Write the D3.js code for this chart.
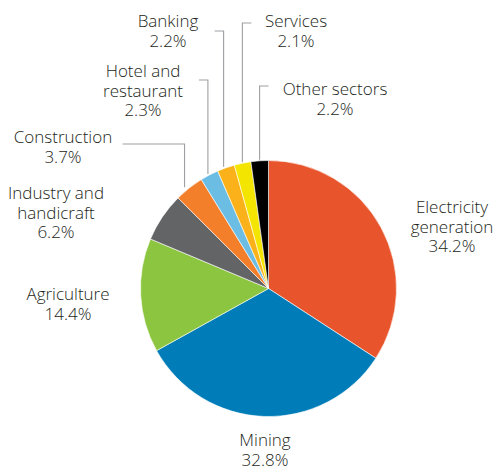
<!DOCTYPE html>
<html>
<head>
<meta charset="utf-8">
<script src="https://cdn.jsdelivr.net/npm/d3@7"></script>
<style>
  html, body { margin: 0; padding: 0; background: #fff; }
  svg text { font-family: "Open Sans", Lato, sans-serif; font-weight: 300; fill: #231f20; }
</style>
</head>
<body>
<svg id="chart" width="496" height="470"></svg>
<script>
// Share of each sector, in percent
const sectors = ["Electricity generation", "Mining", "Agriculture", "Industry and handicraft",
  "Construction", "Hotel and restaurant", "Banking", "Services", "Other sectors"];
const shares = [34.2, 32.8, 14.4, 6.2, 3.7, 2.3, 2.2, 2.1, 2.2];
const labelLines = [
  ["Electricity", "generation"], ["Mining"], ["Agriculture"], ["Industry and", "handicraft"],
  ["Construction"], ["Hotel and", "restaurant"], ["Banking"], ["Services"], ["Other sectors"]
];
const colors = ["#e8542b", "#007db8", "#8cc540", "#636466", "#f47f2b",
  "#6bbde4", "#fbb21a", "#f4e500", "#000000"];

// Label placement: text centre x, first baseline y; leader elbow y, horizontal run, x shift
const labelLayout = [
  { x: 452, y: 213 },
  { x: 265, y: 446 },
  { x: 68, y: 300 },
  { x: 56, y: 199 },
  { x: 63, y: 143, elbowY: 144, run: -62, dx: -4 },
  { x: 143, y: 77, elbowY: 80, run: -9, dx: -1 },
  { x: 168, y: 27, elbowY: 31, run: -9, dx: -2 },
  { x: 296, y: 27, elbowY: 23, run: 9, dx: 0 },
  { x: 335, y: 95, elbowY: 86, run: 9, dx: 0 }
];

const svg = d3.select("#chart");
const cx = 268.5, cy = 288.5, r = 128;
const lineH = 19.5;

const pie = d3.pie().sort(null).value(d => d)(shares);
const arc = d3.arc().innerRadius(0).outerRadius(r);
const edge = d3.arc().innerRadius(r + 1).outerRadius(r + 1);

const g = svg.append("g").attr("transform", `translate(${cx},${cy})`);

g.selectAll("path.slice")
  .data(pie)
  .join("path")
  .attr("class", "slice")
  .attr("d", arc)
  .attr("fill", (d, i) => colors[i])
  .attr("stroke", "#fff")
  .attr("stroke-width", 0.6);

// Leader lines for the narrow slices
pie.forEach((d, i) => {
  const lay = labelLayout[i];
  if (lay.elbowY === undefined) return;
  const [ex, ey] = edge.centroid(d);
  const px = cx + ex + lay.dx, py = cy + ey;
  svg.append("path")
    .attr("d", `M${px},${py}V${lay.elbowY}H${px + lay.run}`)
    .attr("fill", "none")
    .attr("stroke", "#9d9fa2")
    .attr("stroke-width", 1.1);
});

// Sector names and percentages
pie.forEach((d, i) => {
  const lay = labelLayout[i];
  const t = svg.append("text")
    .attr("text-anchor", "middle")
    .attr("font-size", 17);
  const lines = labelLines[i].concat([d3.format(".1f")(shares[i]) + "%"]);
  lines.forEach((s, k) => {
    t.append("tspan").attr("x", lay.x).attr("y", lay.y + k * lineH).text(s);
  });
});
</script>
</body>
</html>
